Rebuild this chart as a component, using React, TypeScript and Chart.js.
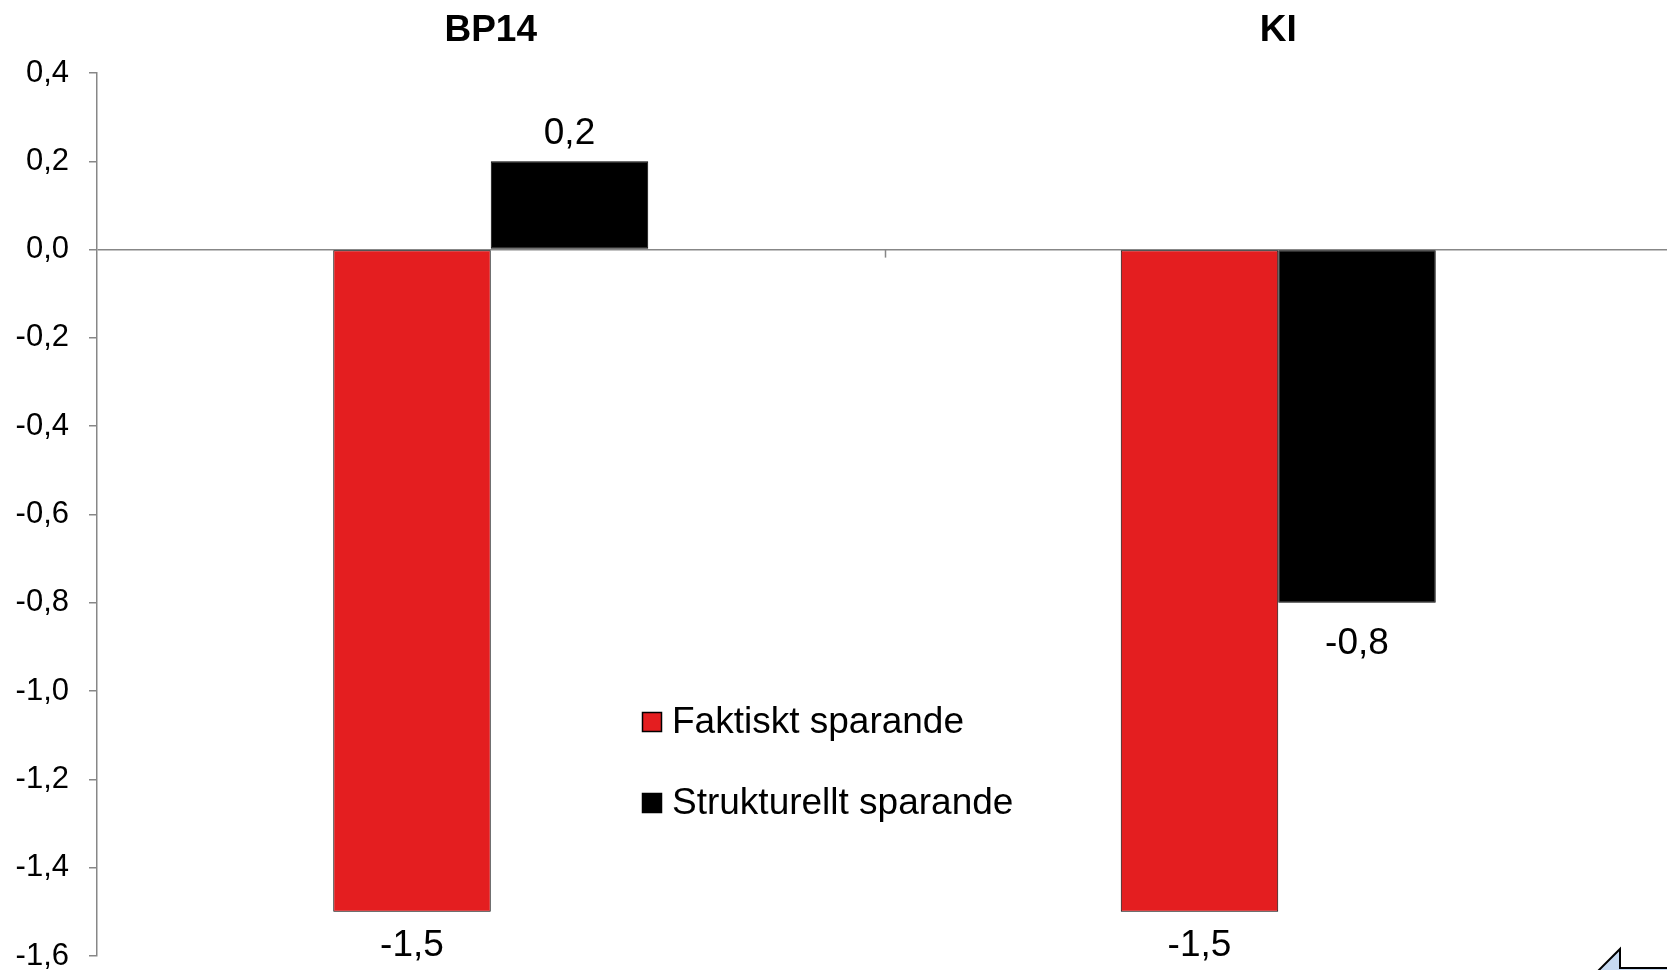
import React, { useEffect, useRef } from 'react';
import { Chart, registerables } from 'chart.js';

Chart.register(...registerables);

const categories = ['BP14', 'KI'];
const seriesNames = ['Faktiskt sparande', 'Strukturellt sparande'];
const faktiskt = [-1.5, -1.5];
const strukturellt = [0.2, -0.8];
const yTicks = [0.4, 0.2, 0.0, -0.2, -0.4, -0.6, -0.8, -1.0, -1.2, -1.4, -1.6];

const RED = 'rgb(228,30,32)';
const BLACK = '#000000';
const AXIS = '#878787';
const FONT = "'Liberation Sans', Arial, sans-serif";

const fmt = (v: number) => (Math.abs(v) < 1e-9 ? 0 : v).toFixed(1).replace('.', ',');

const decor = {
  id: 'decor',
  afterDatasetsDraw(chart: any) {
    const { ctx, chartArea, scales } = chart;
    const x = scales.x;
    const y = scales.y;
    const y0 = y.getPixelForValue(0);
    ctx.save();
    // category boundary tick marks below the zero line
    ctx.strokeStyle = AXIS;
    ctx.lineWidth = 1.5;
    const n = categories.length;
    const w = (x.right - x.left) / n;
    for (let i = 1; i <= n; i++) {
      const bx = Math.round(x.left + i * w) + 0.5;
      ctx.beginPath();
      ctx.moveTo(bx, y0);
      ctx.lineTo(bx, y0 + 8);
      ctx.stroke();
    }
    // data labels
    ctx.font = `37px ${FONT}`;
    ctx.fillStyle = '#000';
    ctx.textAlign = 'center';
    ctx.textBaseline = 'alphabetic';
    chart.data.datasets.forEach((ds: any, di: number) => {
      const meta = chart.getDatasetMeta(di);
      meta.data.forEach((el: any, i: number) => {
        const v = ds.data[i];
        const by = v >= 0 ? el.y - 17 : Math.min(el.y + 51, chartArea.bottom);
        ctx.fillText(fmt(v), el.x, by);
      });
    });
    ctx.restore();
  },
  afterDraw(chart: any) {
    const { ctx } = chart;
    ctx.save();
    // legend inside plot
    const rows = [722, 803];
    chart.data.datasets.forEach((ds: any, di: number) => {
      const cy = rows[di];
      ctx.fillStyle = ds.backgroundColor;
      ctx.fillRect(642, cy - 10, 20, 20);
      ctx.strokeStyle = '#000';
      ctx.lineWidth = 1.5;
      ctx.strokeRect(642.5, cy - 9.5, 19, 19);
      ctx.fillStyle = '#000';
      ctx.font = `37px ${FONT}`;
      ctx.textAlign = 'left';
      ctx.textBaseline = 'middle';
      ctx.fillText(ds.label, 672, cy + 1);
    });
    // partial arrow shape in bottom-right corner
    ctx.beginPath();
    ctx.moveTo(1588, 981);
    ctx.lineTo(1620, 949);
    ctx.lineTo(1620, 968);
    ctx.lineTo(1690, 968);
    ctx.lineTo(1690, 995);
    ctx.lineTo(1600, 995);
    ctx.closePath();
    ctx.fillStyle = '#c6d9f1';
    ctx.fill();
    ctx.strokeStyle = '#000';
    ctx.lineWidth = 2;
    ctx.stroke();
    ctx.restore();
  },
};

export default function App() {
  const ref = useRef<HTMLCanvasElement>(null);
  useEffect(() => {
    const chart = new Chart(ref.current as HTMLCanvasElement, {
      type: 'bar',
      data: {
        labels: categories,
        datasets: [
          {
            label: seriesNames[0],
            data: faktiskt,
            backgroundColor: RED,
            borderColor: BLACK,
            borderWidth: 1,
            borderSkipped: false,
            categoryPercentage: 0.4,
            barPercentage: 1,
          },
          {
            label: seriesNames[1],
            data: strukturellt,
            backgroundColor: BLACK,
            borderColor: BLACK,
            borderWidth: 1,
            borderSkipped: false,
            categoryPercentage: 0.4,
            barPercentage: 1,
          },
        ],
      },
      options: {
        animation: false,
        responsive: false,
        layout: { padding: { top: 0, left: 0, right: 0, bottom: 14 } },
        plugins: { legend: { display: false }, tooltip: { enabled: false } },
        scales: {
          x: {
            type: 'category',
            position: 'top',
            offset: true,
            grid: { display: false },
            border: { display: false },
            ticks: {
              color: '#000',
              font: { family: FONT, size: 37, weight: 'bold' },
              padding: 12,
              maxRotation: 0,
            },
            afterFit: (s: any) => {
              s.height = 73;
              s.paddingLeft = 0;
              s.paddingRight = 0;
            },
          },
          y: {
            min: -1.6,
            max: 0.4,
            afterBuildTicks: (s: any) => {
              s.ticks = yTicks.map((v) => ({ value: v }));
            },
            ticks: {
              color: '#000',
              font: { family: FONT, size: 31 },
              padding: 20,
              callback: (v: any) => fmt(Number(v)),
            },
            grid: {
              color: (c: any) =>
                c.tick && Math.abs(c.tick.value) < 1e-9 ? AXIS : 'rgba(0,0,0,0)',
              tickColor: AXIS,
              tickLength: 8,
              lineWidth: 1.5,
            },
            border: { color: AXIS, width: 1.5 },
            afterFit: (s: any) => {
              s.width = 97;
              s.paddingTop = 0;
              s.paddingBottom = 0;
            },
          },
        },
      },
      plugins: [decor],
    } as any);
    return () => chart.destroy();
  }, []);
  return (
    <div
      style={{
        position: 'absolute',
        left: 0,
        top: 0,
        width: 1667,
        height: 970,
        overflow: 'hidden',
        background: '#fff',
      }}
    >
      <canvas ref={ref} width={1672} height={970} style={{ display: 'block' }} />
    </div>
  );
}
